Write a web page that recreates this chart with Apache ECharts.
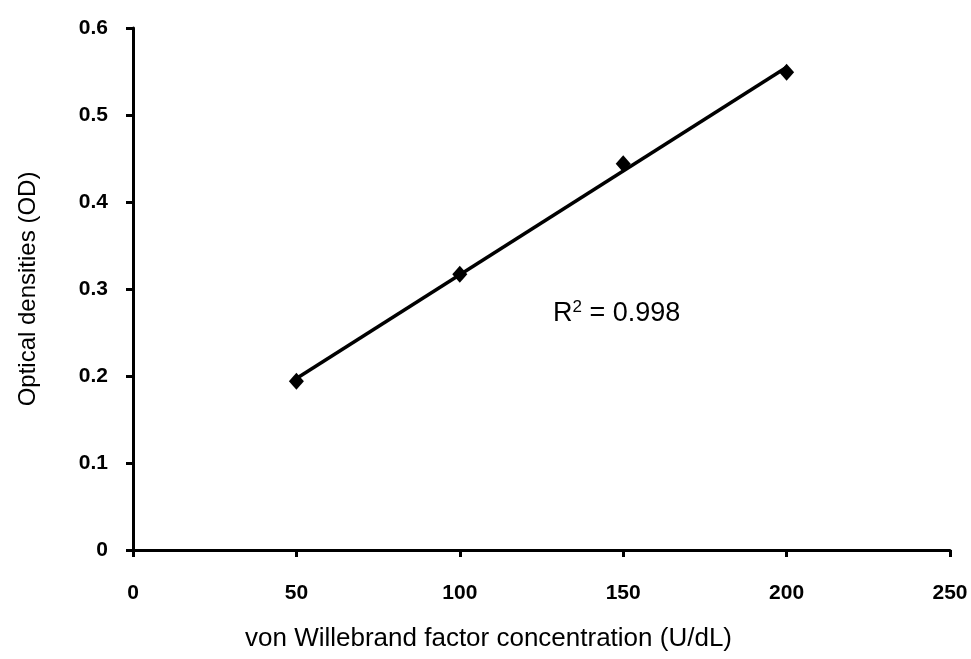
<!DOCTYPE html>
<html>
<head>
<meta charset="utf-8">
<script src="https://cdn.jsdelivr.net/npm/echarts@6/dist/echarts.min.js"></script>
<style>
  html, body { margin: 0; padding: 0; background: #fff; }
  #chart { width: 971px; height: 659px; }
</style>
</head>
<body>
<div id="chart"></div>
<script>
// Standard curve: vWF concentration vs optical density
const concentrations = [50, 100, 150, 200];
const opticalDensities = [0.194, 0.317, 0.444, 0.549];
const xTicks = [0, 50, 100, 150, 200, 250];
const yTicks = [0, 0.1, 0.2, 0.3, 0.4, 0.5, 0.6];
const rSquaredText = '0.998';

// Least-squares fit for the trend line
const n = concentrations.length;
const mx = concentrations.reduce((a, b) => a + b, 0) / n;
const my = opticalDensities.reduce((a, b) => a + b, 0) / n;
let sxy = 0, sxx = 0;
for (let i = 0; i < n; i++) {
  sxy += (concentrations[i] - mx) * (opticalDensities[i] - my);
  sxx += (concentrations[i] - mx) ** 2;
}
const slope = sxy / sxx;
const intercept = my - slope * mx;
const xMin = Math.min(...concentrations), xMax = Math.max(...concentrations);
const fitLine = [[xMin, intercept + slope * xMin], [xMax, intercept + slope * xMax]];

const tickFont = {
  fontFamily: '"Liberation Sans Narrow", "Arial Narrow", "Liberation Sans", Arial, sans-serif',
  fontWeight: 'bold',
  fontSize: 21,
  color: '#000'
};
const titleFont = '"Liberation Sans", Arial, sans-serif';

const chart = echarts.init(document.getElementById('chart'), null, { renderer: 'canvas' });
chart.setOption({
  animation: false,
  backgroundColor: '#fff',
  grid: { left: 133, right: 21, top: 28, bottom: 109, containLabel: false },
  xAxis: {
    type: 'value',
    min: xTicks[0], max: xTicks[xTicks.length - 1], interval: 50,
    name: 'von Willebrand factor concentration (U/dL)',
    nameLocation: 'middle', nameGap: 76,
    nameTextStyle: { fontFamily: titleFont, fontSize: 26, color: '#000', padding: [0, 106, 0, 0] },
    axisLine: { show: true, onZero: false, lineStyle: { color: '#000', width: 3 } },
    axisTick: { show: true, inside: false, length: 7, lineStyle: { color: '#000', width: 3 } },
    axisLabel: Object.assign({ margin: 33, formatter: v => String(v) }, tickFont),
    splitLine: { show: false }
  },
  yAxis: {
    type: 'value',
    min: yTicks[0], max: yTicks[yTicks.length - 1], interval: 0.1,
    name: 'Optical densities (OD)',
    nameLocation: 'middle', nameGap: 93, nameRotate: 90,
    nameTextStyle: { fontFamily: titleFont, fontSize: 24, color: '#000' },
    axisLine: { show: true, onZero: false, lineStyle: { color: '#000', width: 3 } },
    axisTick: { show: true, inside: false, length: 7, lineStyle: { color: '#000', width: 3 } },
    axisLabel: Object.assign({ margin: 25, formatter: v => (v === 0 ? '0' : v.toFixed(1)) }, tickFont),
    splitLine: { show: false }
  },
  series: [
    {
      type: 'line',
      data: fitLine,
      symbol: 'none',
      lineStyle: { color: '#000', width: 3.5 },
      z: 2
    },
    {
      type: 'scatter',
      data: concentrations.map((x, i) => [x, opticalDensities[i]]),
      symbol: 'diamond',
      symbolSize: [15, 17],
      itemStyle: { color: '#000', opacity: 1 },
      z: 3
    }
  ]
});

// R² annotation anchored in data coordinates
const anchor = chart.convertToPixel({ gridIndex: 0 }, [128.5, 0.2724]);
chart.setOption({
  graphic: [{
    type: 'text',
    x: anchor[0], y: anchor[1],
    style: {
      text: '{r|R}{sup|2}{r| = ' + rSquaredText + '}',
      verticalAlign: 'middle',
      rich: {
        r: { fontFamily: titleFont, fontSize: 27, fill: '#000', verticalAlign: 'bottom' },
        sup: { fontFamily: titleFont, fontSize: 17, fill: '#000', verticalAlign: 'top', padding: [0, 0, 11, 0] }
      }
    }
  }]
});
</script>
</body>
</html>
